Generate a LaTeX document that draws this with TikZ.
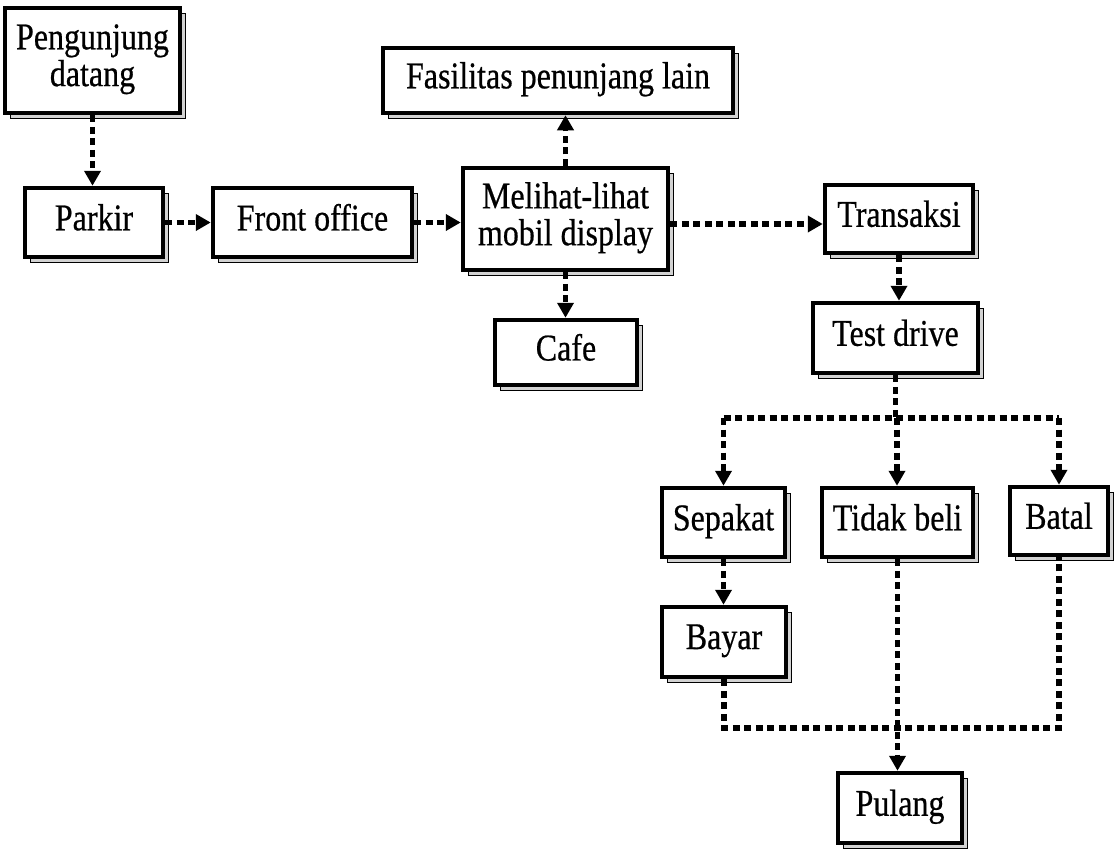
\documentclass[tikz,border=0pt]{standalone}
\usepackage{fontspec}
\setmainfont{Liberation Serif}[FakeBold=0.6]
\usetikzlibrary{arrows.meta,shadows}
% labels are set slightly taller than the font's own shape
\newcommand{\tallt}[1]{\scalebox{1}[1.18]{\begin{tabular}{@{}c@{}}#1\end{tabular}}}
\begin{document}
\begin{tikzpicture}[x=1pt,y=-1pt,
  box/.style={draw=black,line width=4.5pt,fill=white,inner sep=0pt,align=center,
    font=\fontsize{32}{30}\selectfont,
    general shadow={shadow xshift=5pt,shadow yshift=-5pt,fill=gray!35,draw=black,line width=0.9pt}},
  conn/.style={line width=5.5pt,dash pattern=on 7pt off 4.5pt},
  arr/.style={conn,-{Triangle[width=16pt,length=15pt]}}]
\useasboundingbox (0,0) rectangle (1115,851);

% activity boxes
\node[box,minimum width=175,minimum height=105] (pen) at (92.5,60.5) {\tallt{Pengunjung\\datang}};
\node[box,minimum width=138,minimum height=69] (park) at (94,222.5) {\tallt{Parkir}};
\node[box,minimum width=199,minimum height=69] (front) at (312.5,222.5) {\tallt{Front office}};
\node[box,minimum width=205,minimum height=102] (mel) at (565.5,219) {\tallt{Melihat-lihat\\mobil display}};
\node[box,minimum width=350,minimum height=65] (fas) at (558,80.5) {\tallt{Fasilitas penunjang lain}};
\node[box,minimum width=142,minimum height=65] (cafe) at (566,352.5) {\tallt{Cafe}};
\node[box,minimum width=148,minimum height=68] (trans) at (899,219) {\tallt{Transaksi}};
\node[box,minimum width=165,minimum height=70] (test) at (895.5,338) {\tallt{Test drive}};
\node[box,minimum width=123,minimum height=69] (sep) at (723.5,522.5) {\tallt{Sepakat}};
\node[box,minimum width=151,minimum height=69] (tid) at (897.5,522.5) {\tallt{Tidak beli}};
\node[box,minimum width=98,minimum height=68] (bat) at (1059,521) {\tallt{Batal}};
\node[box,minimum width=124,minimum height=70] (bay) at (724,642) {\tallt{Bayar}};
\node[box,minimum width=124,minimum height=70] (pul) at (900,808) {\tallt{Pulang}};

% branch and merge points
\coordinate (j) at (897,418);
\coordinate (m) at (897,728);

% flow connectors
\draw[arr] (pen.south) -- (pen.south |- park.north);
\draw[arr] (park.east) -- (front.west);
\draw[arr] (front.east) -- (front.east -| mel.west);
\draw[arr] (mel.north) -- (mel.north |- fas.south);
\draw[arr] (mel.south) -- (mel.south |- cafe.north);
\draw[arr] ([yshift=-5pt]mel.east) -- ([yshift=-5pt]trans.west);
\draw[arr] (trans.south) -- (trans.south |- test.north);
\draw[conn] (test.south) -- (test.south |- j);
\draw[conn] (sep.north |- j) -- (bat.north |- j);
\draw[arr] (sep.north |- j) -- (sep.north);
\draw[arr] (j) -- (j |- tid.north);
\draw[arr] (bat.north |- j) -- (bat.north);
\draw[arr] (sep.south) -- (sep.south |- bay.north);
\draw[arr] (tid.south) -- (tid.south |- pul.north);
\draw[conn] (bay.south) -- (bay.south |- m) -- (bat.south |- m) -- (bat.south);
\end{tikzpicture}
\end{document}
